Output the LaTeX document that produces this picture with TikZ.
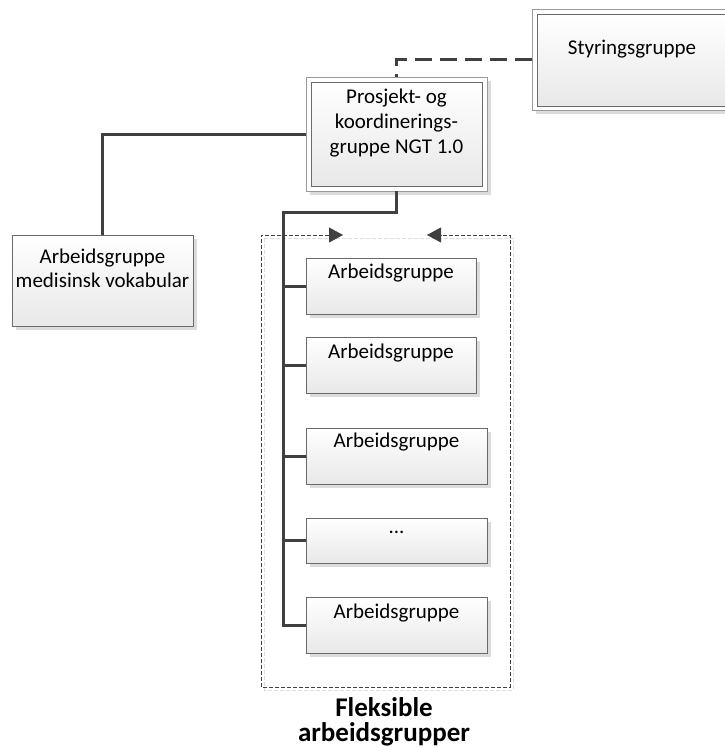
\documentclass[tikz,border=0pt]{standalone}
\usepackage{fontspec}
\setmainfont{Carlito}
\usetikzlibrary{arrows.meta,shadows}
\definecolor{conn}{HTML}{404040}
\definecolor{boxline}{HTML}{6A6A6A}
\definecolor{outerline}{HTML}{9A9A9A}
\definecolor{shadowc}{HTML}{DCDCDC}
\definecolor{boxbottom}{HTML}{E8E8E8}
\begin{document}
\begin{tikzpicture}[x=1pt,y=-1pt,
  every node/.style={inner sep=0pt, outer sep=0pt},
  txt/.style={font=\fontsize{21}{25}\selectfont, align=center, anchor=base},
  boldtxt/.style={font=\fontsize{27}{26}\selectfont\bfseries, align=center, anchor=base},
  wbox/.style={draw=boxline, line width=1pt, top color=white, bottom color=boxbottom,
    drop shadow={shadow xshift=4pt, shadow yshift=-4pt, fill=shadowc, opacity=1}},
  outerbox/.style={draw=outerline, line width=1pt, fill=white,
    drop shadow={shadow xshift=4pt, shadow yshift=-4pt, fill=shadowc, opacity=1}},
  innerbox/.style={draw=boxline, line width=1pt, top color=white, bottom color=boxbottom},
  conline/.style={draw=conn, line width=3pt},
  dashconn/.style={draw=conn, line width=2.6pt, dash pattern=on 17pt off 8pt},
  cont/.style={draw=conn, line width=0.8pt, dash pattern=on 4pt off 2pt},
  contshadow/.style={draw=shadowc, line width=0.8pt, dash pattern=on 4pt off 2pt},
  bitip/.style={{Triangle[length=14pt,width=15pt]}-{Triangle[length=14pt,width=15pt]}},
]
\useasboundingbox (0,0) rectangle (724,747);

% Styringsgruppe (double border)
\node[outerbox, minimum width=202pt, minimum height=101pt] (styr) at (633,59.5) {};
\node[innerbox, minimum width=192pt, minimum height=92pt] (styrin) at (633,60) {};
\node[txt] (styrt) at (632,54) {Styringsgruppe};

% Prosjekt- og koordineringsgruppe (double border)
\node[outerbox, minimum width=181pt, minimum height=114pt] (pk) at (396.5,134) {};
\node[innerbox, minimum width=171pt, minimum height=104pt] (pkin) at (396.5,134) {};
\node[txt] (pkt1) at (396.5,103) {Prosjekt- og};
\node[txt] (pkt2) at (396.5,128) {koordinerings-};
\node[txt] (pkt3) at (396.5,153) {gruppe NGT 1.0};

% Arbeidsgruppe medisinsk vokabular
\node[wbox, minimum width=181pt, minimum height=91pt] (med) at (102.5,280.5) {};
\node[txt] (medt1) at (102.5,263) {Arbeidsgruppe};
\node[txt] (medt2) at (102.5,287) {medisinsk vokabular};

% container shadow and container
\draw[contshadow] (264,238) rectangle (513,690);
\coordinate (cl) at (343,235);
\coordinate (cr) at (427,235);
\draw[cont, bitip]
  (cl) -- (261,235) -- (261,687) -- (510,687) -- (510,235) -- (cr);

% working groups
\node[wbox, minimum width=170pt, minimum height=56pt] (w1) at (391,286) {};
\node[txt] (w1t) at (391,278) {Arbeidsgruppe};
\node[wbox, minimum width=170pt, minimum height=56pt] (w2) at (391,365) {};
\node[txt] (w2t) at (391,358) {Arbeidsgruppe};
\node[wbox, minimum width=181pt, minimum height=56pt] (w3) at (396.5,456) {};
\node[txt] (w3t) at (396.5,447.5) {Arbeidsgruppe};
\node[wbox, minimum width=181pt, minimum height=45pt] (w4) at (396.5,540.5) {};
\node[txt] (w4t) at (396.5,533) {...};
\node[wbox, minimum width=181pt, minimum height=56pt] (w5) at (396.5,625) {};
\node[txt] (w5t) at (396.5,618.5) {Arbeidsgruppe};

% label
\node[boldtxt] (fl1) at (384,716) {Fleksible};
\node[boldtxt] (fl2) at (384,741) {arbeidsgrupper};

% connectors
\coordinate (bus) at (283,212);
\draw[dashconn] (styr.west) -| (pk.north);
\draw[conline] (pk.west) -| (med.north);
\draw[conline] (pk.south) |- (bus) |- (w5.west);
\draw[conline] (w1.west) -- (w1.west -| bus);
\draw[conline] (w2.west) -- (w2.west -| bus);
\draw[conline] (w3.west) -- (w3.west -| bus);
\draw[conline] (w4.west) -- (w4.west -| bus);
\end{tikzpicture}
\end{document}
